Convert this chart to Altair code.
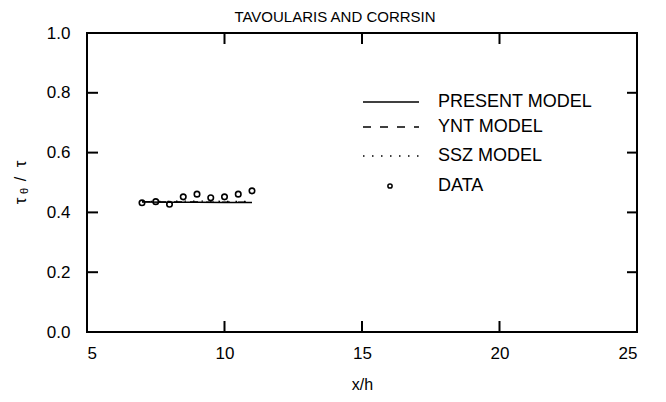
import altair as alt
import pandas as pd

# ---- data ----
data_x = [7.0, 7.5, 8.0, 8.5, 9.0, 9.5, 10.0, 10.5, 11.0]
data_y = [0.432, 0.436, 0.427, 0.452, 0.461, 0.449, 0.452, 0.461, 0.472]

model_x = [7.0, 8.0, 9.0, 10.0, 11.0]
present_y = [0.435, 0.434, 0.434, 0.433, 0.433]
ynt_y = [0.436, 0.435, 0.435, 0.434, 0.434]
ssz_y = [0.437, 0.437, 0.438, 0.437, 0.437]

x_ticks = [5, 10, 15, 20, 25]
y_ticks = [0.0, 0.2, 0.4, 0.6, 0.8, 1.0]
x_inner_ticks = [10, 15, 20]
y_inner_ticks = [0.2, 0.4, 0.6, 0.8]

title_text = "TAVOULARIS AND CORRSIN"
x_title = "x/h"
legend_labels = ["PRESENT MODEL", "YNT MODEL", "SSZ MODEL", "DATA"]

FONT = "Liberation Sans"
W, H = 550, 299

xscale = alt.Scale(domain=[5, 25], nice=False, zero=False)
yscale = alt.Scale(domain=[0, 1], nice=False, zero=False)

pts = pd.DataFrame({"x": data_x, "y": data_y})

def model_df(vals):
    return pd.DataFrame({"x": model_x, "y": vals})

one = pd.DataFrame({"a": [0]})

points = alt.Chart(pts).mark_point(
    shape="circle", filled=False, color="black", strokeWidth=1.6, size=30, opacity=1
).encode(
    x=alt.X("x:Q", scale=xscale,
            axis=alt.Axis(values=x_ticks, title=x_title, ticks=False, domain=False,
                          grid=False, labelFontSize=17, labelFont=FONT,
                          labelColor="black", labelPadding=13, titleFont=FONT,
                          titleFontSize=16, titleFontWeight="normal",
                          titleColor="black", titlePadding=15, format="d")),
    y=alt.Y("y:Q", scale=yscale,
            axis=alt.Axis(values=y_ticks, title=None, ticks=False, domain=False,
                          grid=False, labelFontSize=17, labelFont=FONT,
                          labelColor="black", labelPadding=17, format=".1f")),
)

present = alt.Chart(model_df(present_y)).mark_line(color="black", strokeWidth=1.5).encode(
    x="x:Q", y="y:Q")
ynt = alt.Chart(model_df(ynt_y)).mark_line(color="black", strokeWidth=1.3,
                                            strokeDash=[8, 8]).encode(x="x:Q", y="y:Q")
ssz = alt.Chart(model_df(ssz_y)).mark_line(color="black", strokeWidth=1.3,
                                            strokeDash=[1.5, 7]).encode(x="x:Q", y="y:Q")

# inward ticks on all four sides
xt = pd.DataFrame({"x": x_inner_ticks})
yt = pd.DataFrame({"y": y_inner_ticks})
tb = alt.Chart(xt).mark_rule(color="black", strokeWidth=2).encode(
    x="x:Q", y=alt.value(H), y2=alt.value(H - 11))
tt = alt.Chart(xt).mark_rule(color="black", strokeWidth=2).encode(
    x="x:Q", y=alt.value(0), y2=alt.value(11))
tl = alt.Chart(yt).mark_rule(color="black", strokeWidth=2).encode(
    y="y:Q", x=alt.value(0), x2=alt.value(11))
tr = alt.Chart(yt).mark_rule(color="black", strokeWidth=2).encode(
    y="y:Q", x=alt.value(W), x2=alt.value(W - 10))

# title
title = alt.Chart(one).mark_text(font=FONT, fontSize=15, color="black",
                                 align="center", baseline="alphabetic").encode(
    x=alt.value(248), y=alt.value(-11), text=alt.value(title_text))

# y-axis title: tau_theta / tau (rotated)
ytitle_parts = []
for txt, px, py, fs in [("τ", -66, 168, 17), ("θ", -62, 158, 11),
                        ("/", -66, 146, 16), ("τ", -66, 131, 17)]:
    ytitle_parts.append(
        alt.Chart(one).mark_text(font=FONT, fontSize=fs, color="black", angle=270,
                                 align="center", baseline="middle").encode(
            x=alt.value(px), y=alt.value(py), text=alt.value(txt)))

# legend
rows = [69, 94, 123, 153]
lx1, lx2, tx = 276, 332, 351
leg = []
leg.append(alt.Chart(one).mark_rule(color="black", strokeWidth=1.5).encode(
    x=alt.value(lx1), x2=alt.value(lx2), y=alt.value(rows[0])))
leg.append(alt.Chart(one).mark_rule(color="black", strokeWidth=1.3, strokeDash=[8, 9]).encode(
    x=alt.value(lx1), x2=alt.value(lx2), y=alt.value(rows[1])))
leg.append(alt.Chart(one).mark_rule(color="black", strokeWidth=1.3, strokeDash=[1.5, 7.5]).encode(
    x=alt.value(lx1), x2=alt.value(lx2), y=alt.value(rows[2])))
leg.append(alt.Chart(one).mark_point(shape="circle", filled=False, color="black",
                                     strokeWidth=1.5, size=18, opacity=1).encode(
    x=alt.value(303), y=alt.value(rows[3])))
for lab, ry in zip(legend_labels, rows):
    leg.append(alt.Chart(one).mark_text(font=FONT, fontSize=18, color="black",
                                        align="left", baseline="middle").encode(
        x=alt.value(tx), y=alt.value(ry), text=alt.value(lab)))

chart = alt.layer(
    points, present, ynt, ssz, tb, tt, tl, tr, title, *ytitle_parts, *leg
).properties(
    width=W, height=H,
    autosize=alt.AutoSizeParams(type="none"),
    padding={"left": 79, "top": 25, "right": 21, "bottom": 62},
    background="white",
).configure_view(stroke="black", strokeWidth=2)

chart.save("out.html", embed_options={"renderer": "svg", "actions": False})
